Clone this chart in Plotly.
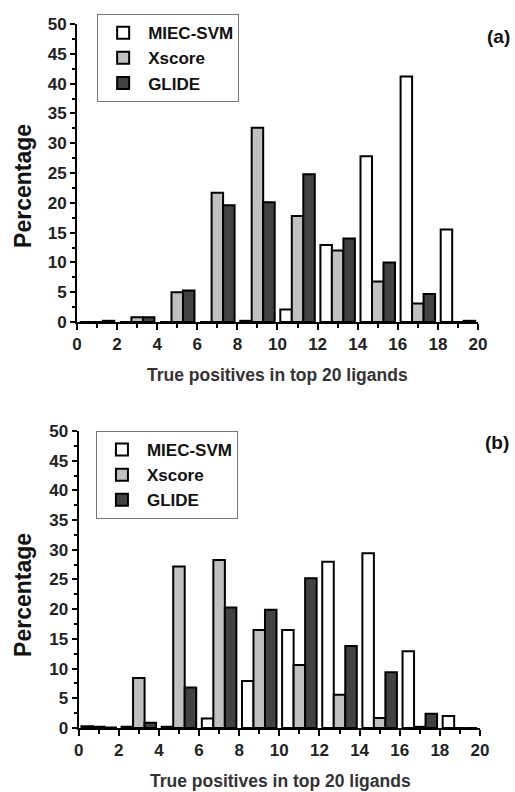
import plotly.graph_objects as go

# Group centres (true positives in top 20 ligands)
positions = [1, 3, 5, 7, 9, 11, 13, 15, 17, 19]
tick_vals = [0, 2, 4, 6, 8, 10, 12, 14, 16, 18, 20]

series_names = ["MIEC-SVM", "Xscore", "GLIDE"]

# Panel (a)
a_miec = [0.0, 0.0, 0.0, 0.0, 0.2, 2.1, 12.9, 27.8, 41.2, 15.5]
a_xscore = [0.0, 0.8, 5.0, 21.7, 32.6, 17.8, 12.0, 6.8, 3.1, 0.0]
a_glide = [0.2, 0.8, 5.3, 19.6, 20.1, 24.8, 14.0, 10.0, 4.7, 0.2]

# Panel (b)
b_miec = [0.3, 0.2, 0.2, 1.6, 7.9, 16.5, 28.0, 29.4, 12.9, 2.0]
b_xscore = [0.2, 8.4, 27.2, 28.3, 16.5, 10.6, 5.6, 1.7, 0.2, 0.0]
b_glide = [0.1, 0.9, 6.8, 20.3, 19.9, 25.2, 13.8, 9.4, 2.4, 0.0]

colors = ["#ffffff", "#c0c0c0", "#424242"]
FONT = "Liberation Sans, Arial, sans-serif"

fig = go.Figure()
for name, vals, col in zip(series_names, [a_miec, a_xscore, a_glide], colors):
    fig.add_trace(go.Bar(x=positions, y=vals, name=name, xaxis="x", yaxis="y",
                         marker=dict(color=col, line=dict(color="black", width=2)),
                         legend="legend"))
for name, vals, col in zip(series_names, [b_miec, b_xscore, b_glide], colors):
    fig.add_trace(go.Bar(x=positions, y=vals, name=name, xaxis="x2", yaxis="y2",
                         marker=dict(color=col, line=dict(color="black", width=2)),
                         legend="legend2"))

xaxis_common = dict(range=[0, 20], tickvals=tick_vals, showline=True, linecolor="black",
                    linewidth=2, ticks="outside", ticklen=6, tickwidth=2, tickcolor="black",
                    showgrid=False, zeroline=False, automargin=False,
                    tickfont=dict(family=FONT, size=17, color="#222", weight="bold"),
                    minor=dict(dtick=1, tick0=0, ticks="outside", ticklen=4, tickwidth=2,
                               tickcolor="black", showgrid=False))
yaxis_common = dict(range=[0, 50], dtick=5, tick0=0, showline=True, linecolor="black",
                    linewidth=2, ticks="outside", ticklen=5, tickwidth=2, tickcolor="black",
                    showgrid=False, zeroline=False, automargin=False,
                    tickfont=dict(family=FONT, size=17, color="#222", weight="bold"),
                    minor=dict(dtick=2.5, tick0=0, ticks="outside", ticklen=3, tickwidth=2,
                               tickcolor="black", showgrid=False))

legend_common = dict(font=dict(family=FONT, size=17, color="#111", weight="bold"),
                     bgcolor="white", bordercolor="#777", borderwidth=1,
                     xanchor="left", yanchor="top", tracegroupgap=0, itemwidth=40)

def ann(text, x, y, size, color="#111", angle=0):
    return dict(text=text, x=x, y=y, xref="paper", yref="paper", xanchor="center",
                yanchor="middle", textangle=angle, showarrow=False,
                font=dict(family=FONT, size=size, color=color, weight="bold"))

fig.update_layout(
    width=515, height=792,
    margin=dict(l=77, r=35, t=24, b=64, autoexpand=False),
    paper_bgcolor="white", plot_bgcolor="white",
    barmode="group", bargap=0.14, bargroupgap=0,
    xaxis=dict(domain=[0, 0.995], anchor="y", **xaxis_common),
    yaxis=dict(domain=[0.5767, 1], anchor="x", **yaxis_common),
    xaxis2=dict(domain=[0.004, 1], anchor="y2", **xaxis_common),
    yaxis2=dict(domain=[0, 0.4219], anchor="x2", **yaxis_common),
    legend=dict(x=0.05, y=1.014, **legend_common),
    legend2=dict(x=0.047, y=0.4219, **legend_common),
    annotations=[
        ann("Percentage", -0.134, 0.770, 23, angle=-90),
        ann("Percentage", -0.134, 0.189, 23, angle=-90),
        ann("True positives in top 20 ligands", 0.497, 0.5014, 17.5, color="#333"),
        ann("True positives in top 20 ligands", 0.504, -0.0753, 17.5, color="#333"),
        ann("(a)", 1.045, 0.982, 19),
        ann("(b)", 1.042, 0.406, 19),
    ],
)

fig.write_html("out.html", config={"displayModeBar": False},
               post_script="document.body.style.margin='0';")
